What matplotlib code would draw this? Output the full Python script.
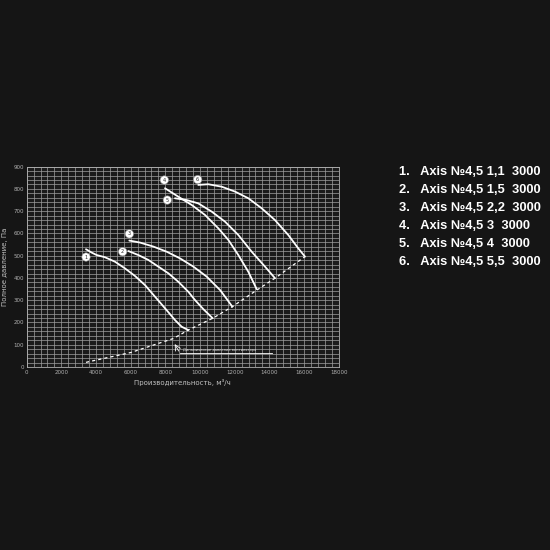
import matplotlib.pyplot as plt
from matplotlib.ticker import MultipleLocator

# fan curves: flow (m3/h) and total pressure (Pa)
c1_x = [3421, 3750, 4038, 4517, 5094, 5671, 6248, 6825, 7402, 7979, 8556, 8940, 9325]
c1_y = [529, 514, 503, 493, 473, 443, 409, 368, 316, 264, 211, 181, 166]
c2_x = [5863, 6440, 7017, 7594, 8171, 8748, 9325, 9709, 10192, 10731]
c2_y = [521, 503, 481, 451, 421, 383, 338, 301, 260, 219]
c3_x = [5923, 6538, 7308, 8077, 8846, 9615, 10385, 11154, 11500, 11865]
c3_y = [568, 559, 541, 518, 488, 451, 406, 346, 310, 271]
c4_x = [7979, 8748, 9518, 10287, 11056, 11633, 12210, 12787, 13267]
c4_y = [803, 765, 728, 683, 623, 571, 503, 428, 350]
c5_x = [8556, 9230, 9900, 10673, 11440, 12210, 12980, 13748, 14325]
c5_y = [758, 750, 735, 698, 653, 593, 518, 451, 399]
c6_x = [9900, 10477, 11249, 12018, 12787, 13557, 14325, 15092, 15669, 16055]
c6_y = [818, 821, 810, 788, 758, 713, 660, 593, 533, 496]

# dynamic pressure line
dyn_x = [3423, 6000, 8462, 9325, 10731, 11865, 13267, 14325, 16055]
dyn_y = [21, 65, 128, 166, 219, 271, 345, 399, 496]

# number markers next to curves
mark_x = [3423, 5538, 5923, 7942, 8115, 9865]
mark_y = [494, 518, 598, 840, 750, 842]
mark_txt = ['1', '2', '3', '4', '5', '6']

legend = ['1.   Axis №4,5 1,1  3000',
          '2.   Axis №4,5 1,5  3000',
          '3.   Axis №4,5 2,2  3000',
          '4.   Axis №4,5 3  3000',
          '5.   Axis №4,5 4  3000',
          '6.   Axis №4,5 5,5  3000']

curves = [(c1_x, c1_y), (c2_x, c2_y), (c3_x, c3_y),
          (c4_x, c4_y), (c5_x, c5_y), (c6_x, c6_y)]

fig = plt.figure(figsize=(5.5, 5.5), dpi=100, facecolor='#151515')
ax = fig.add_axes([0.0485, 0.3327, 0.5673, 0.3643])
ax.set_facecolor('#1b1b1b')

for x, y in curves:
    ax.plot(x, y, color='white', lw=1.3, solid_capstyle='round',
            solid_joinstyle='round')
ax.plot(dyn_x, dyn_y, color='white', lw=0.9, ls=(0, (2.5, 2.5)))

for x, y, t in zip(mark_x, mark_y, mark_txt):
    ax.text(x, y, t, fontsize=3.5, color='#222', ha='center', va='center',
            bbox=dict(boxstyle='circle,pad=0.35', fc='white', ec='#888', lw=0.4))

# dynamic pressure callout
ax.annotate('', xy=(8462, 114), xytext=(8846, 61),
            arrowprops=dict(arrowstyle='->', color='white', lw=0.6))
ax.plot([8846, 14135], [61, 61], color='white', lw=0.6)
ax.text(9000, 68, 'Динамическое давление вентилятора', fontsize=2.6,
        color='#ddd', va='bottom')

ax.set_xlim(0, 18000)
ax.set_ylim(0, 900)
ax.xaxis.set_major_locator(MultipleLocator(2000))
ax.xaxis.set_minor_locator(MultipleLocator(400))
ax.yaxis.set_major_locator(MultipleLocator(100))
ax.yaxis.set_minor_locator(MultipleLocator(20))
ax.grid(which='both', color='#a0a0a0', lw=0.5)
ax.set_axisbelow(True)
ax.tick_params(which='both', length=0, labelsize=4, colors='#b0b0b0', pad=2)
for s in ax.spines.values():
    s.set_color('#b0b0b0')
    s.set_linewidth(0.6)

ax.set_xlabel('Производительность, м³/ч', fontsize=5, color='#c0c0c0', labelpad=3)
ax.set_ylabel('Полное давление, Па', fontsize=5, color='#c0c0c0', labelpad=4)

for i, t in enumerate(legend):
    fig.text(399 / 550, 1 - (171.7 + 18 * i) / 550, t, fontsize=9.3,
             color='white', fontweight='bold', family='Liberation Sans',
             va='center', ha='left')

fig.savefig('out.png', dpi=100, facecolor=fig.get_facecolor())
